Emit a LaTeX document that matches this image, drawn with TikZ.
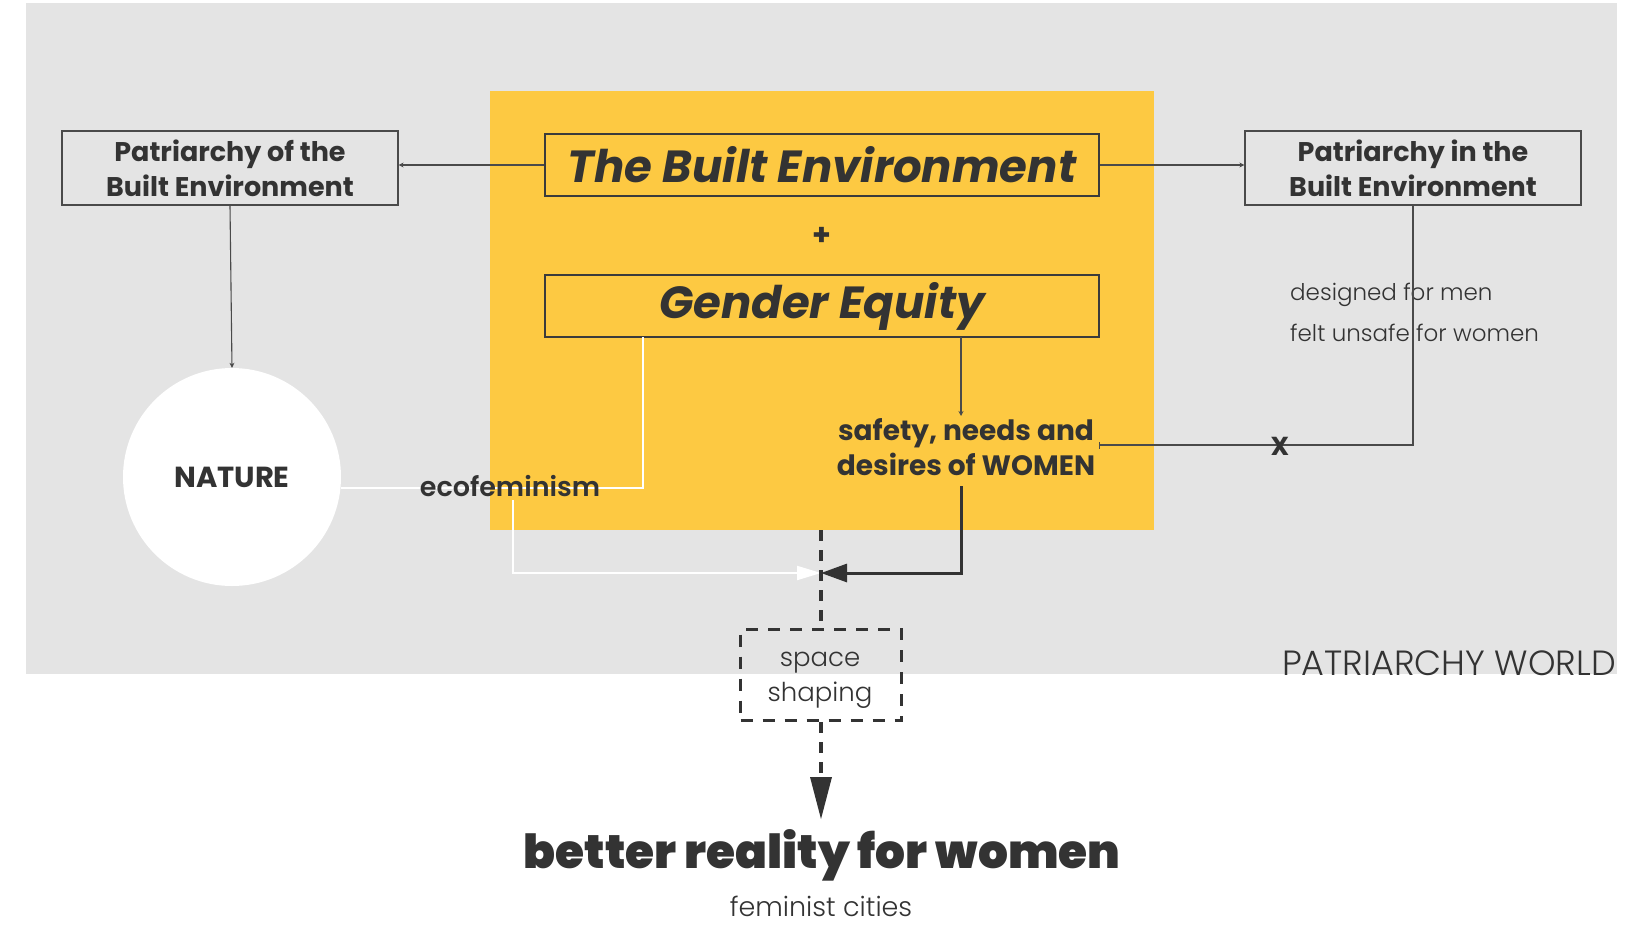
\documentclass[tikz,border=0pt]{standalone}
\usepackage{fontspec}
\setmainfont{Poppins}
\newfontfamily\plight{Poppins Light}
\newfontfamily\psemi{Poppins SemiBold}
\newfontfamily\pblack{Poppins Black}
\usetikzlibrary{arrows.meta}
\definecolor{bggray}{HTML}{E4E4E4}
\definecolor{sun}{HTML}{FDC942}
\definecolor{ink}{HTML}{333333}
\definecolor{wire}{HTML}{4A4A4A}
\newcommand\fs[2]{\fontsize{#1}{#2}\selectfont}

\begin{document}
\begin{tikzpicture}[x=1pt,y=-1pt,
  txt/.style={text=ink,inner sep=0pt,align=center},
  sidebox/.style={draw=wire,line width=1.2pt,minimum width=336pt,minimum height=74pt,
    text=ink,align=center,inner sep=0pt,font=\bfseries\fs{27}{35}},
  mainbox/.style={draw=wire!80!black,line width=1.1pt,minimum width=554pt,minimum height=62pt,
    text=ink,align=center,inner sep=0pt,font=\bfseries\itshape\fs{45}{48}},
  thin/.style={draw=wire,line width=1.1pt},
  smallhead/.style={-{Stealth[length=5pt,width=5pt]}},
  whiteline/.style={draw=white,line width=2pt},
  darkline/.style={draw=ink,line width=3pt},
  dashline/.style={draw=ink,line width=3.5pt,dash pattern=on 11pt off 9pt},
]
% canvas and the grey "world"
\useasboundingbox (0,0) rectangle (1651,924);
\fill[white] (0,0) rectangle (1651,924);
\fill[bggray] (26,3) rectangle (1617,674);
\fill[sun] (490,91) rectangle (1154,530);

% nodes
\node[sidebox] (pof) at (230,168) {Patriarchy of the\\Built Environment};
\node[sidebox] (pin) at (1413,168) {Patriarchy in the\\Built Environment};
\node[mainbox] (be) at (822,165) {The Built Environment};
\node[txt,font=\bfseries\fs{30}{30}] (plus) at (822,236) {+};
\node[mainbox] (ge) at (822,306) {Gender Equity};
\node[circle,fill=white,minimum size=218pt,inner sep=0pt] (nat) at (232,477) {};
\node[txt,font=\bfseries\fs{29}{29}] (natlbl) at (nat) {NATURE};
\node[txt,font=\bfseries\fs{28}{35}] (saf) at (966,447) {safety, needs and\\desires of WOMEN};
\node[txt,anchor=west,align=left,font=\plight\fs{23}{41}] (des) at (1290,312) {designed for men\\felt unsafe for women};
\node[txt,font=\plight\fs{26}{35}] (ss) at (820,680) {space\\shaping};
\node[draw=ink,line width=3.5pt,dash pattern=on 12pt off 10pt,minimum width=161pt,minimum height=91pt] (ssbox) at (821,675) {};
\node[txt,font=\pblack\fs{47}{47}] (better) at (822,855) {better reality for women};
\node[txt,font=\plight\fs{27}{27}] (fem) at (821,906) {feminist cities};
\node[txt,anchor=east,font=\plight\fs{35}{35}] (world) at (1616,663) {PATRIARCHY WORLD};

% junction points
\coordinate (meet) at (821,573);
\coordinate (tip) at (821,819);

% white ecofeminism links, drawn under the label
\draw[whiteline] (643,337) |- (nat.east |- 0,488);
\draw[whiteline,-{Triangle[length=24pt,width=14pt]}] (513,500) |- (meet);
\node[txt,font=\psemi\fs{27}{27}] (eco) at (510,486) {ecofeminism};

% thin grey links
\draw[thin,smallhead] (be.west) -- (pof.east |- be.west);
\draw[thin,smallhead] (be.east) -- (pin.west |- be.east);
\draw[thin,smallhead] (pof.south) -- (nat.north);
\draw[thin,smallhead] (961,337) -- (961,416);
\draw[thin,-{Bar[width=7pt]}] (pin.south) |- (1099,445);
\node[txt,font=\bfseries\fs{26}{26}] (x) at (1280,446) {X};

% thick dark link into the flow
\draw[darkline,-{Triangle[length=26pt,width=18pt]}] (961,486) |- (meet);

% dashed main flow
\draw[dashline] (821,530) -- (ssbox.north);
\draw[dashline] (ssbox.south) -- (821,780);
\fill[ink] (810,777) -- (832,777) -- (tip) -- cycle;
\end{tikzpicture}
\end{document}
